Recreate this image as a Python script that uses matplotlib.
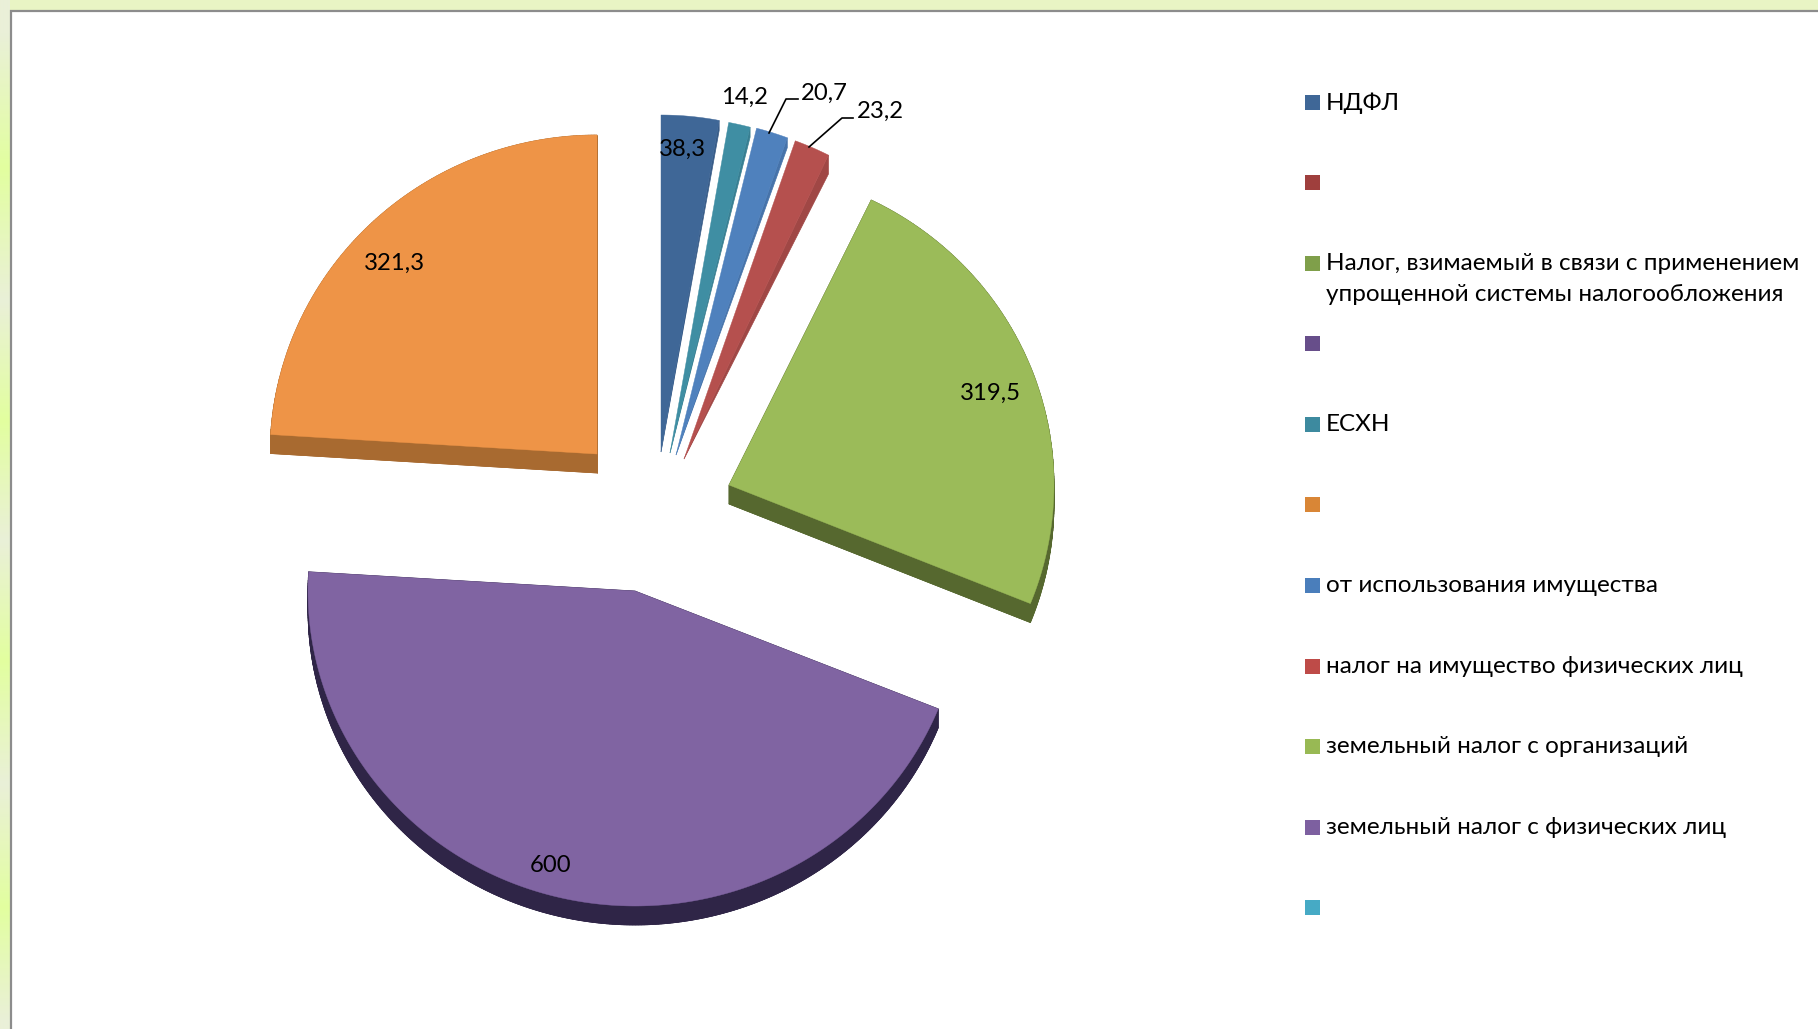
import matplotlib
matplotlib.use("Agg")
import matplotlib.pyplot as plt
import numpy as np
from matplotlib.patches import Rectangle

# Data (clockwise from the top)
values = [38.3, 14.2, 20.7, 23.2, 319.5, 600, 321.3]
value_labels = ["38,3", "14,2", "20,7", "23,2", "319,5", "600", "321,3"]

legend_labels = ["НДФЛ", "", "Налог, взимаемый в связи с применением\nупрощенной системы налогообложения", "",
                 "ЕСХН", "", "от использования имущества", "налог на имущество физических лиц",
                 "земельный налог с организаций", "земельный налог с физических лиц", ""]

# Styles
top_colors = ["#3f6797", "#3f8ea3", "#4f81bd", "#b5504e", "#9bbb59", "#8064a2", "#ee9447"]
side_colors = ["#375b87", "#387f92", "#4673aa", "#a04745", "#56682f", "#2f2547", "#a86a30"]
legend_colors = ["#3f6797", "#9f3f3d", "#7f9f4a", "#674e8a", "#3d8a9f", "#d98636",
                 "#4a7ebb", "#be4b48", "#98b954", "#7d60a0", "#46aac5"]

# pixel layout of each exploded slice: apex x, apex y, x radius, y radius
apex_x = [661, 670, 676, 684, 729, 635, 597]
apex_y = [452, 453, 455, 459, 485, 591, 454]
radius_x = [325, 328, 330, 330, 325, 327, 327]
radius_y = [337, 336, 337, 338, 317, 315, 319]
depth = 19
thin_depth = [10, 10, 10, 19]  # the thin slices only show a sliver of side, closing at the apex

label_x = [682, 745, 824, 880, 990, 551, 394]
label_y = [149, 97, 93, 111, 393, 866, 263]

legend_y = [102, 182, 263, 343, 424, 504, 585, 666, 746, 827, 907]

# background strip on the left, colour along y
strip_y = [33, 167, 300, 420, 540, 660, 783, 907, 1020]
strip_light = np.array([0xea, 0xf0, 0xd8]) / 255
strip_bright = np.array([0xe2, 0xff, 0x9f]) / 255
strip_mix = [0, 1, 0, 1, 0, 1, 0, 1, 0]

plt.rcParams['font.family'] = ['Lato', 'Open Sans', 'DejaVu Sans']

fig = plt.figure(figsize=(18.18, 10.29), dpi=100, facecolor="#e9f4c4")
ax = fig.add_axes([0, 0, 1, 1])

rows = np.arange(1029)
mix = np.interp(rows, strip_y, strip_mix)[:, None, None]
strip = strip_light[None, None, :] * (1 - mix) + strip_bright[None, None, :] * mix
ax.imshow(strip, extent=[0, 10, 1029, 0], aspect="auto", interpolation="bilinear")

ax.set_xlim(0, 1818)
ax.set_ylim(1029, 0)
ax.axis("off")

# frame of the chart area
ax.add_patch(Rectangle((10.5, 11), 1830, 1040, facecolor="white", edgecolor="#8c8c8c", linewidth=1.6))


def slice_outline(a0, a1, cx, cy, rx, ry):
    t = np.radians(np.linspace(a0, a1, max(int(a1 - a0) * 2, 8)))
    xs = np.concatenate([[cx], cx + rx * np.sin(t)])
    ys = np.concatenate([[cy], cy - ry * np.cos(t)])
    return xs, ys


angles = np.concatenate([[0], np.cumsum(values)]) / sum(values) * 360

for i in range(len(values)):
    xs, ys = slice_outline(angles[i], angles[i + 1], apex_x[i], apex_y[i], radius_x[i], radius_y[i])
    if i < len(thin_depth):
        ax.fill([xs[0], xs[-1], xs[-1]], [ys[0], ys[-1], ys[-1] + thin_depth[i]], color=side_colors[i], linewidth=0.5)
    else:
        # extruded side: lower copy plus a quad for each outline segment
        ax.fill(xs, ys + depth, color=side_colors[i], linewidth=0.5)
        for j in range(len(xs)):
            k = (j + 1) % len(xs)
            ax.fill([xs[j], xs[k], xs[k], xs[j]], [ys[j], ys[k], ys[k] + depth, ys[j] + depth],
                    color=side_colors[i], linewidth=0.5)
    ax.fill(xs, ys, color=top_colors[i], linewidth=0.3)

# leader lines
ax.plot([769, 786, 798], [133, 99, 99], color="black", linewidth=1.2)
ax.plot([809, 842, 853], [147, 118, 118], color="black", linewidth=1.2)

for x, y, s in zip(label_x, label_y, value_labels):
    ax.text(x, y, s, ha="center", va="center", fontsize=17.2, color="black")

# legend
for y, s, c in zip(legend_y, legend_labels, legend_colors):
    ax.add_patch(Rectangle((1305, y - 7.5), 15, 15, facecolor=c, edgecolor="none"))
    if s:
        ax.text(1326, y - 10, s, ha="left", va="top", fontsize=17.5, color="black", linespacing=1.6)

fig.savefig("out.png", dpi=100, facecolor=fig.get_facecolor())
